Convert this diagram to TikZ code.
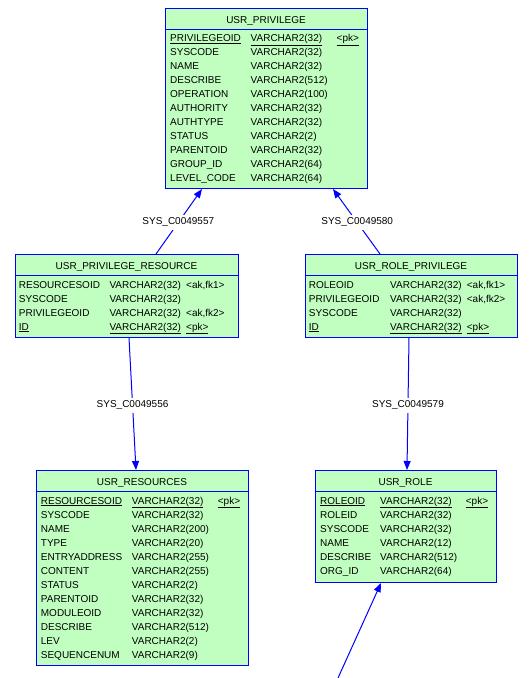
\documentclass[tikz,border=0pt]{standalone}
\usepackage{fontspec}
\setmainfont{Liberation Sans}
\usetikzlibrary{arrows.meta}
\definecolor{erblue}{RGB}{0,0,255}
\definecolor{ergreen}{RGB}{192,255,192}
\tikzset{
  tbl/.style={draw=erblue, fill=ergreen, line width=1pt, rectangle, inner sep=0pt, anchor=north west},
  sepline/.style={draw=erblue, line width=1pt},
  cell/.style={anchor=base west, inner sep=0pt},
  ttl/.style={anchor=base, inner sep=0pt},
  fk/.style={draw=erblue, line width=1pt, -{Triangle[length=9pt,width=7pt]}},
  lbl/.style={fill=white, inner sep=3pt, text=black}
}
\newcommand\erow[9]{%
  \node[cell] (#1n#2) at (#3,#6) {#7};
  \node[cell] (#1y#2) at (#4,#6) {#8};
  \if\relax\detokenize{#9}\relax\else\node[cell] (#1k#2) at (#5,#6) {#9};\fi
}
\begin{document}
\begin{tikzpicture}[x=1pt,y=-1pt,font=\fontsize{10}{12}\selectfont]
\path[use as bounding box, fill=white] (0,0) rectangle (530,678);

% ---------- USR_PRIVILEGE ----------
\node[tbl, minimum width=202pt, minimum height=180pt] (priv) at (165,8) {};
\draw[sepline] (priv.west |- 0,29) -- (priv.east |- 0,29);
\node[ttl] (privt) at (266,23) {USR\_PRIVILEGE};
\erow{priv}{1}{170}{250.5}{336.5}{41.7}{\underline{PRIVILEGEOID}}{\underline{VARCHAR2(32)}}{\underline{<pk>}}
\erow{priv}{2}{170}{250.5}{336.5}{55.7}{SYSCODE}{VARCHAR2(32)}{}
\erow{priv}{3}{170}{250.5}{336.5}{69.7}{NAME}{VARCHAR2(32)}{}
\erow{priv}{4}{170}{250.5}{336.5}{83.7}{DESCRIBE}{VARCHAR2(512)}{}
\erow{priv}{5}{170}{250.5}{336.5}{97.7}{OPERATION}{VARCHAR2(100)}{}
\erow{priv}{6}{170}{250.5}{336.5}{111.7}{AUTHORITY}{VARCHAR2(32)}{}
\erow{priv}{7}{170}{250.5}{336.5}{125.7}{AUTHTYPE}{VARCHAR2(32)}{}
\erow{priv}{8}{170}{250.5}{336.5}{139.7}{STATUS}{VARCHAR2(2)}{}
\erow{priv}{9}{170}{250.5}{336.5}{153.7}{PARENTOID}{VARCHAR2(32)}{}
\erow{priv}{10}{170}{250.5}{336.5}{167.7}{GROUP\_ID}{VARCHAR2(64)}{}
\erow{priv}{11}{170}{250.5}{336.5}{181.7}{LEVEL\_CODE}{VARCHAR2(64)}{}

% ---------- USR_PRIVILEGE_RESOURCE ----------
\node[tbl, minimum width=223pt, minimum height=83pt] (pr) at (15,254) {};
\draw[sepline] (pr.west |- 0,275) -- (pr.east |- 0,275);
\node[ttl] (prt) at (126.5,269) {USR\_PRIVILEGE\_RESOURCE};
\erow{pr}{1}{18.7}{109.3}{186}{288}{RESOURCESOID}{VARCHAR2(32)}{<ak,fk1>}
\erow{pr}{2}{18.7}{109.3}{186}{302}{SYSCODE}{VARCHAR2(32)}{}
\erow{pr}{3}{18.7}{109.3}{186}{316}{PRIVILEGEOID}{VARCHAR2(32)}{<ak,fk2>}
\erow{pr}{4}{18.7}{109.3}{186}{330}{\underline{ID}}{\underline{VARCHAR2(32)}}{\underline{<pk>}}

% ---------- USR_ROLE_PRIVILEGE ----------
\node[tbl, minimum width=212pt, minimum height=83pt] (rp) at (305,254) {};
\draw[sepline] (rp.west |- 0,275) -- (rp.east |- 0,275);
\node[ttl] (rpt) at (411,269) {USR\_ROLE\_PRIVILEGE};
\erow{rp}{1}{308.7}{390}{466.7}{288}{ROLEOID}{VARCHAR2(32)}{<ak,fk1>}
\erow{rp}{2}{308.7}{390}{466.7}{302}{PRIVILEGEOID}{VARCHAR2(32)}{<ak,fk2>}
\erow{rp}{3}{308.7}{390}{466.7}{316}{SYSCODE}{VARCHAR2(32)}{}
\erow{rp}{4}{308.7}{390}{466.7}{330}{\underline{ID}}{\underline{VARCHAR2(32)}}{\underline{<pk>}}

% ---------- USR_RESOURCES ----------
\node[tbl, minimum width=212pt, minimum height=195pt] (res) at (36,470) {};
\draw[sepline] (res.west |- 0,491) -- (res.east |- 0,491);
\node[ttl] (rest) at (142,485) {USR\_RESOURCES};
\erow{res}{1}{40.7}{131.7}{217.7}{504}{\underline{RESOURCESOID}}{\underline{VARCHAR2(32)}}{\underline{<pk>}}
\erow{res}{2}{40.7}{131.7}{217.7}{518}{SYSCODE}{VARCHAR2(32)}{}
\erow{res}{3}{40.7}{131.7}{217.7}{532}{NAME}{VARCHAR2(200)}{}
\erow{res}{4}{40.7}{131.7}{217.7}{546}{TYPE}{VARCHAR2(20)}{}
\erow{res}{5}{40.7}{131.7}{217.7}{560}{ENTRYADDRESS}{VARCHAR2(255)}{}
\erow{res}{6}{40.7}{131.7}{217.7}{574}{CONTENT}{VARCHAR2(255)}{}
\erow{res}{7}{40.7}{131.7}{217.7}{588}{STATUS}{VARCHAR2(2)}{}
\erow{res}{8}{40.7}{131.7}{217.7}{602}{PARENTOID}{VARCHAR2(32)}{}
\erow{res}{9}{40.7}{131.7}{217.7}{616}{MODULEOID}{VARCHAR2(32)}{}
\erow{res}{10}{40.7}{131.7}{217.7}{630}{DESCRIBE}{VARCHAR2(512)}{}
\erow{res}{11}{40.7}{131.7}{217.7}{644}{LEV}{VARCHAR2(2)}{}
\erow{res}{12}{40.7}{131.7}{217.7}{658}{SEQUENCENUM}{VARCHAR2(9)}{}

% ---------- USR_ROLE ----------
\node[tbl, minimum width=181pt, minimum height=112pt] (role) at (315,470) {};
\draw[sepline] (role.west |- 0,491) -- (role.east |- 0,491);
\node[ttl] (rolet) at (405.5,485) {USR\_ROLE};
\erow{role}{1}{320}{380}{465.7}{504}{\underline{ROLEOID}}{\underline{VARCHAR2(32)}}{\underline{<pk>}}
\erow{role}{2}{320}{380}{465.7}{518}{ROLEID}{VARCHAR2(32)}{}
\erow{role}{3}{320}{380}{465.7}{532}{SYSCODE}{VARCHAR2(32)}{}
\erow{role}{4}{320}{380}{465.7}{546}{NAME}{VARCHAR2(12)}{}
\erow{role}{5}{320}{380}{465.7}{560}{DESCRIBE}{VARCHAR2(512)}{}
\erow{role}{6}{320}{380}{465.7}{574}{ORG\_ID}{VARCHAR2(64)}{}

% ---------- connectors ----------
\draw[fk] (156,0 |- pr.north) -- node[lbl, pos=0.485] (l557) {SYS\_C0049557} (202,0 |- priv.south);
\draw[fk] (380,0 |- rp.north) -- node[lbl, pos=0.485] (l580) {SYS\_C0049580} (333,0 |- priv.south);
\draw[fk] (129,0 |- pr.south) -- node[lbl, pos=0.51] (l556) {SYS\_C0049556} (136,0 |- res.north);
\draw[fk] (409,0 |- rp.south) -- node[lbl, pos=0.51] (l579) {SYS\_C0049579} (407,0 |- role.north);
\coordinate (free) at (338,678);
\draw[fk] (free) -- (381,0 |- role.south);
\end{tikzpicture}
\end{document}
